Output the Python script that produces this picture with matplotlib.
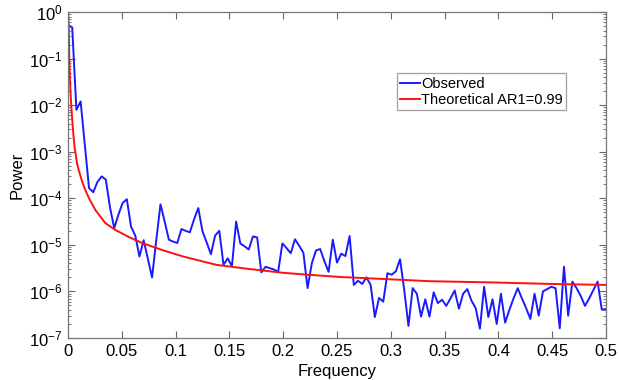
import numpy as np
import matplotlib
matplotlib.use("Agg")
import matplotlib.pyplot as plt
from matplotlib.ticker import LogLocator, NullFormatter

plt.rcParams['font.family'] = ['Liberation Sans', 'DejaVu Sans']

# Observed spectrum: log10(power) at frequencies k/256, k = 0..128
observed_log10 = [
    -0.28, -0.33, -2.10, -1.92, -2.85, -3.78, -3.87, -3.65, -3.53, -3.60,
    -4.20, -4.64, -4.35, -4.10, -4.02, -4.61, -4.80, -5.25, -4.90, -5.30,
    -5.70, -4.90, -4.13, -4.50, -4.89, -4.93, -4.96, -4.66, -4.70, -4.73,
    -4.45, -4.21, -4.71, -4.95, -5.20, -4.80, -4.70, -5.43, -5.29, -5.46,
    -4.50, -4.97, -5.03, -5.10, -4.82, -4.84, -5.59, -5.47, -5.50, -5.53,
    -5.58, -4.97, -5.07, -5.18, -4.88, -5.02, -5.17, -5.93, -5.40, -5.12,
    -5.09, -5.35, -5.58, -4.89, -5.38, -5.19, -5.24, -4.81, -5.86, -5.77,
    -5.84, -5.70, -5.86, -6.55, -6.14, -6.22, -5.61, -5.64, -5.57, -5.31,
    -5.97, -6.74, -5.93, -6.05, -6.54, -6.17, -6.54, -6.02, -6.25, -6.18,
    -6.31, -6.15, -5.98, -6.37, -6.05, -5.95, -6.20, -6.36, -6.80, -5.90,
    -6.55, -6.17, -6.70, -6.05, -6.67, -6.40, -6.15, -5.93, -6.15, -6.36,
    -6.59, -6.05, -6.52, -6.00, -5.95, -5.90, -5.93, -6.79, -5.47, -6.52,
    -5.79, -5.93, -6.10, -6.31, -6.15, -5.97, -5.79, -6.39, -6.38,
]
observed_freq = np.arange(len(observed_log10)) / 256.0

# Theoretical AR1 curve
theory_freq = [0.0, 0.0007, 0.0012, 0.0022, 0.0030, 0.0042, 0.0053, 0.0062, 0.0084, 0.0099,
               0.013, 0.016, 0.020, 0.0254, 0.0346, 0.044, 0.0564, 0.0688, 0.0874, 0.107,
               0.138, 0.169, 0.20, 0.222, 0.253, 0.30, 0.336, 0.40, 0.45, 0.5]
theory_log10 = [0.0, -0.30, -1.00, -1.65, -2.00, -2.40, -2.71, -2.92, -3.25, -3.39,
                -3.63, -3.82, -4.02, -4.25, -4.53, -4.68, -4.83, -4.96, -5.11, -5.25,
                -5.43, -5.52, -5.60, -5.64, -5.69, -5.74, -5.78, -5.81, -5.84, -5.86]

x_ticks = [0, 0.05, 0.1, 0.15, 0.2, 0.25, 0.3, 0.35, 0.4, 0.45, 0.5]
x_tick_labels = ['0', '0.05', '0.1', '0.15', '0.2', '0.25', '0.3', '0.35', '0.4', '0.45', '0.5']

fig = plt.figure(figsize=(6.19, 3.80), dpi=100)
ax = fig.add_axes([68/619, 42/380, 538/619, 326/380])

ax.plot(observed_freq, np.power(10.0, observed_log10), color='#1a1aff', lw=1.4,
        label='Observed')
ax.plot(theory_freq, np.power(10.0, theory_log10), color='#ff1010', lw=1.4,
        label='Theoretical AR1=0.99')

ax.set_yscale('log')
ax.set_xlim(0, 0.5)
ax.set_ylim(1e-7, 1e0)
ax.set_xticks(x_ticks)
ax.set_xticklabels(x_tick_labels)
ax.yaxis.set_major_locator(LogLocator(base=10, numticks=10))
ax.yaxis.set_minor_locator(LogLocator(base=10, subs=np.arange(2, 10), numticks=100))
ax.yaxis.set_minor_formatter(NullFormatter())

ax.tick_params(which='both', direction='in', top=True, right=True,
               colors='#666666', labelcolor='black', labelsize=12)
ax.tick_params(which='major', length=5, pad=4)
ax.tick_params(which='minor', length=2.5)
for s in ax.spines.values():
    s.set_color('#777777')
    s.set_linewidth(0.9)

ax.set_xlabel('Frequency', fontsize=12, labelpad=4)
ax.set_ylabel('Power', fontsize=12, labelpad=3)

leg = ax.legend(loc='upper left', bbox_to_anchor=(0.611, 0.813), fontsize=10.5,
                frameon=True, fancybox=False, handlelength=1.35, handletextpad=0.05,
                borderpad=0.25, labelspacing=0.15, borderaxespad=0)
leg.get_frame().set_edgecolor('#888888')
leg.get_frame().set_linewidth(0.9)

fig.savefig('out.png', dpi=100)
